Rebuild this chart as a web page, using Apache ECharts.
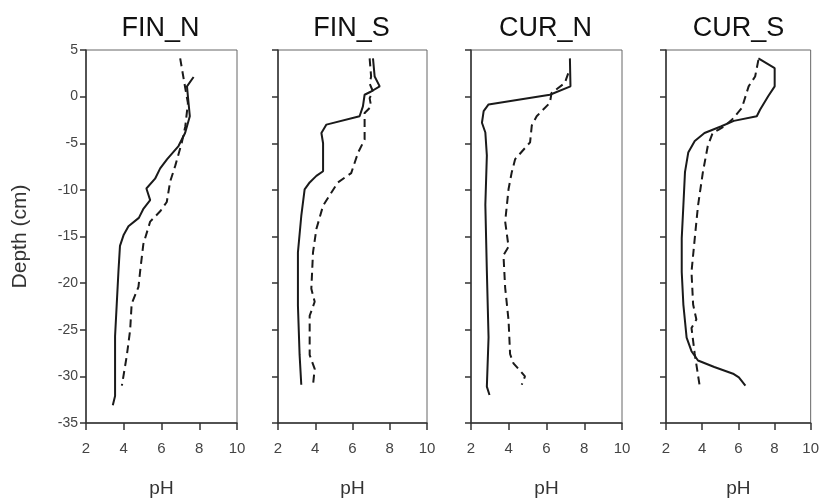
<!DOCTYPE html>
<html>
<head>
<meta charset="utf-8">
<script src="https://cdn.jsdelivr.net/npm/echarts@6/dist/echarts.min.js"></script>
<style>
  html, body { margin: 0; padding: 0; background: #fff; }
  #chart { width: 822px; height: 503px; }
</style>
</head>
<body>
<div id="chart"></div>
<script>
// Site names, one panel each
const sites = ['FIN_N', 'FIN_S', 'CUR_N', 'CUR_S'];

// Depth axis (cm) and pH axis tick values
const depthTicks = [5, 0, -5, -10, -15, -20, -25, -30, -35];
const phTicks = [2, 4, 6, 8, 10];

// Profiles as [pH, depth (cm)] pairs; solid and dashed profile per site
const finNSolid = [[7.7,2.1],[7.35,1.1],[7.4,0],[7.5,-2.1],[7.25,-3.9],[6.9,-5.3],[6.3,-6.7],[5.93,-7.7],[5.66,-8.8],[5.2,-9.85],[5.4,-11.1],[5.05,-12.0],[4.8,-13.0],[4.25,-13.9],[4.0,-14.8],[3.8,-16.0],[3.72,-18.7],[3.63,-22.2],[3.54,-25.7],[3.54,-29.3],[3.54,-32.1],[3.42,-33.1]];
const finNDashed = [[6.99,4.1],[7.26,0.9],[7.4,-0.7],[7.26,-3.2],[7.08,-4.9],[6.73,-7.4],[6.46,-9.1],[6.28,-11.3],[5.93,-12.3],[5.4,-13.4],[5.04,-15.8],[4.87,-18.7],[4.78,-20.4],[4.42,-22.2],[4.34,-25.0],[4.16,-27.8],[3.9,-31.0]];

const finSSolid = [[7.1,4.1],[7.19,2.15],[7.46,1.1],[7.0,0.55],[6.65,0.2],[6.56,-1.05],[6.38,-2.1],[4.6,-3.0],[4.33,-3.9],[4.42,-5.0],[4.42,-6.4],[4.42,-8.0],[4.06,-8.5],[3.7,-9.2],[3.43,-9.95],[3.25,-12.8],[3.07,-16.7],[3.07,-22.4],[3.16,-27.7],[3.25,-30.9]];
const finSDashed = [[6.92,4.1],[7.0,2.15],[6.92,1.4],[7.1,0.55],[6.92,-0.16],[7.0,-1.05],[6.65,-1.76],[6.65,-4.6],[6.3,-6.0],[5.93,-8.2],[5.22,-9.2],[4.86,-10.3],[4.42,-11.7],[4.06,-14.2],[3.88,-16.7],[3.79,-20.6],[3.97,-22.0],[3.7,-23.5],[3.7,-27.7],[3.97,-29.2],[3.88,-30.9]];

const curNSolid = [[7.24,4.1],[7.27,1.1],[6.18,0.2],[2.93,-0.84],[2.67,-1.55],[2.58,-2.8],[2.76,-3.85],[2.84,-6.3],[2.76,-11.6],[2.84,-18.7],[2.93,-25.8],[2.84,-31.1],[2.98,-32.0]];
const curNDashed = [[7.15,2.5],[6.97,1.46],[6.27,0.4],[6.18,-0.66],[5.48,-2.1],[5.22,-3.1],[5.13,-4.9],[4.34,-6.7],[4.16,-8.1],[3.99,-9.9],[3.81,-13.4],[3.99,-16.1],[3.72,-17.0],[3.81,-20.5],[3.99,-24.0],[4.07,-27.6],[4.25,-28.6],[4.86,-30.0],[4.69,-30.9]];

const curSSolid = [[7.11,4.1],[8.01,3.05],[8.01,1.1],[7.65,0.04],[7.2,-1.4],[7.02,-2.1],[5.75,-2.6],[5.03,-3.2],[4.13,-3.9],[3.59,-4.75],[3.23,-6.0],[3.05,-8.1],[2.96,-11.7],[2.87,-15.2],[2.87,-18.8],[2.96,-22.3],[3.14,-25.85],[3.41,-27.3],[3.77,-28.3],[4.67,-29.0],[5.75,-29.75],[6.03,-30.1],[6.39,-31.0]];
const curSDashed = [[7.11,3.94],[6.93,2.16],[6.57,1.1],[6.2,-1.2],[5.66,-2.45],[5.21,-3.2],[4.94,-3.5],[4.58,-3.9],[4.31,-5.3],[4.04,-8.1],[3.77,-11.7],[3.59,-15.2],[3.41,-18.8],[3.5,-22.3],[3.68,-23.9],[3.41,-24.8],[3.59,-27.6],[3.86,-31.0]];

const solidProfiles = [finNSolid, finSSolid, curNSolid, curSSolid];
const dashedProfiles = [finNDashed, finSDashed, curNDashed, curSDashed];

// Panel placement
const panelLeft = [86, 278, 471, 666];
const panelWidth = [151, 149, 151, 147];
const panelTop = 50;
const panelHeight = 377;

const font = '"Liberation Sans", Arial, sans-serif';
const axisColor = '#333';

const grids = [], xAxes = [], yAxes = [], titles = [], series = [];
sites.forEach((name, i) => {
  grids.push({
    left: panelLeft[i], top: panelTop, width: panelWidth[i], height: panelHeight,
    show: true, borderColor: '#666', borderWidth: 1, backgroundColor: 'transparent'
  });
  titles.push({
    text: name,
    left: panelLeft[i] + panelWidth[i] / 2 - 6,
    top: 10,
    textAlign: 'center',
    textStyle: { fontFamily: font, fontSize: 27, fontWeight: 'normal', color: '#111' }
  });
  xAxes.push({
    type: 'value', gridIndex: i,
    min: phTicks[0], max: phTicks[phTicks.length - 1], interval: 2,
    name: 'pH', nameLocation: 'middle', nameGap: 56,
    nameTextStyle: { fontFamily: font, fontSize: 19, color: '#333' },
    axisLine: { show: true, onZero: false, lineStyle: { color: axisColor, width: 1.5 } },
    axisTick: { show: true, inside: false, length: 7, lineStyle: { color: axisColor, width: 1.5 } },
    axisLabel: { show: true, margin: 18, fontFamily: font, fontSize: 15, color: '#444' },
    splitLine: { show: false }
  });
  yAxes.push({
    type: 'value', gridIndex: i,
    min: depthTicks[depthTicks.length - 1], max: depthTicks[0], interval: 5,
    name: i === 0 ? 'Depth (cm)' : '', nameLocation: 'middle', nameGap: 55,
    nameTextStyle: { fontFamily: font, fontSize: 21, color: '#333' },
    axisLine: { show: true, onZero: false, lineStyle: { color: axisColor, width: 1.5 } },
    axisTick: { show: true, inside: false, length: 6, lineStyle: { color: axisColor, width: 1.5 } },
    axisLabel: { show: i === 0, margin: 8, fontFamily: font, fontSize: 14, color: '#444' },
    splitLine: { show: false }
  });
  series.push({
    type: 'line', xAxisIndex: i, yAxisIndex: i,
    data: solidProfiles[i], showSymbol: false, symbol: 'none',
    lineStyle: { color: '#1a1a1a', width: 2 }, silent: true
  });
  series.push({
    type: 'line', xAxisIndex: i, yAxisIndex: i,
    data: dashedProfiles[i], showSymbol: false, symbol: 'none',
    lineStyle: { color: '#1a1a1a', width: 2, type: [8, 5] }, silent: true
  });
});

const chart = echarts.init(document.getElementById('chart'), null, { renderer: 'canvas' });
chart.setOption({
  animation: false,
  backgroundColor: '#fff',
  title: titles,
  grid: grids,
  xAxis: xAxes,
  yAxis: yAxes,
  series: series
});
</script>
</body>
</html>
